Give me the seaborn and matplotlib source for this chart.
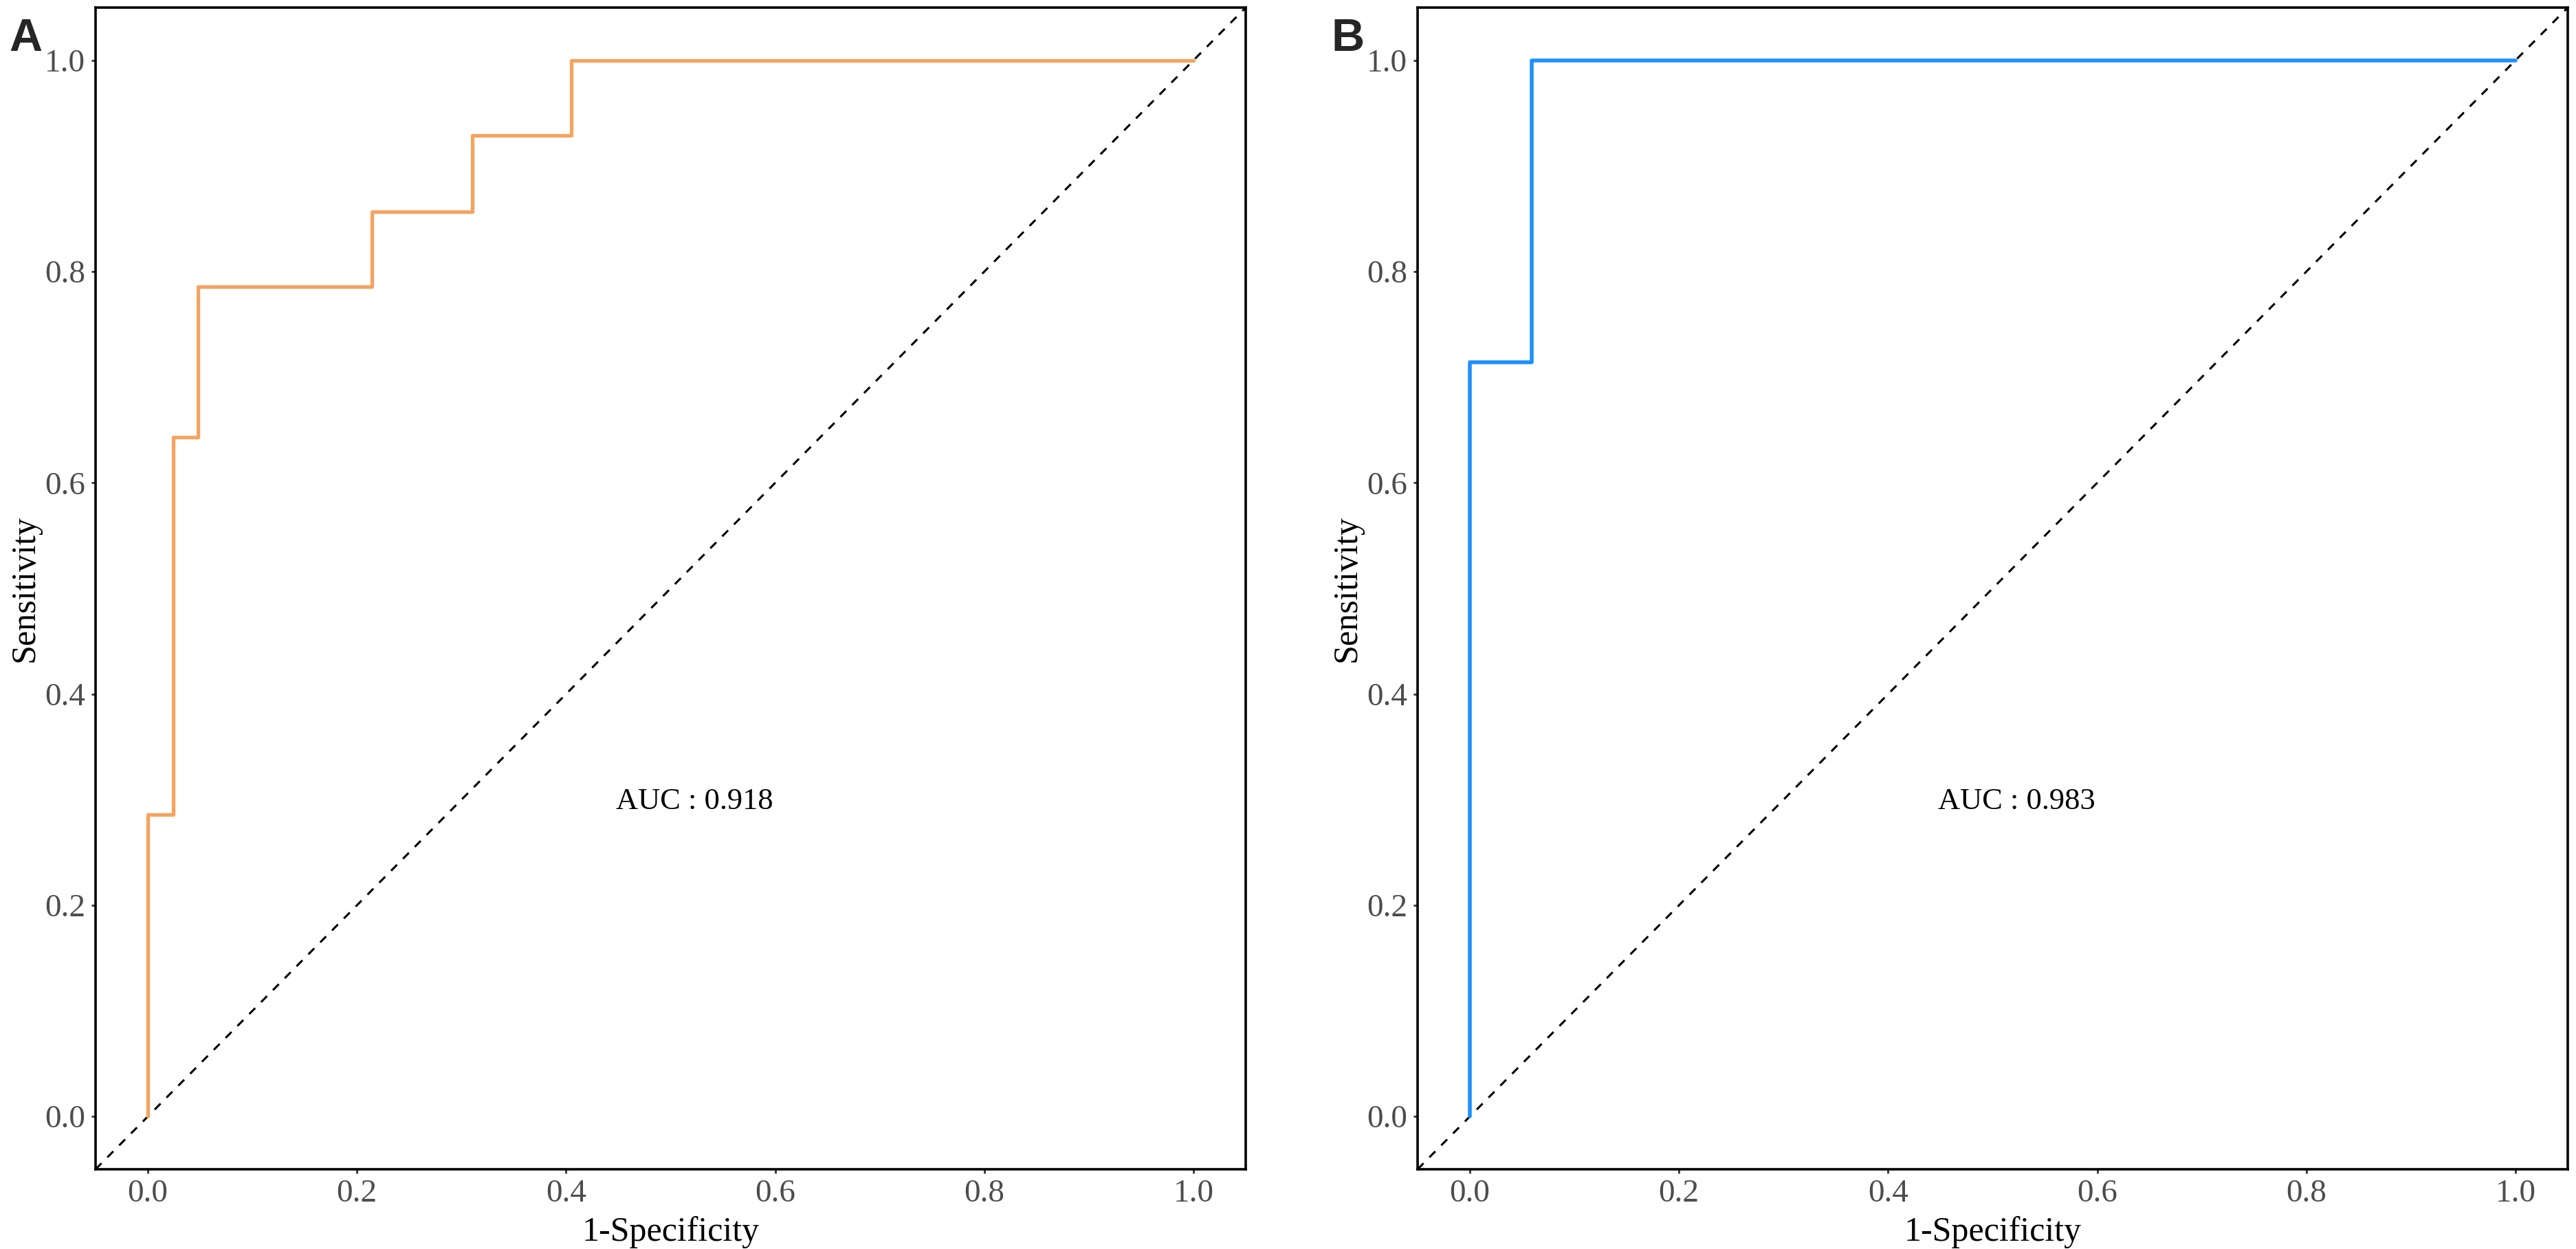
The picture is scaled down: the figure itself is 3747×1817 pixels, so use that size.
import numpy as np
import pandas as pd
import matplotlib
matplotlib.use("Agg")
import matplotlib.pyplot as plt
import seaborn as sns

# ---- data (ROC vertices) ----
fpr_a = [0.0, 0.0, 0.024, 0.024, 0.048, 0.048, 0.214, 0.214, 0.310, 0.310, 0.405, 0.405, 1.0]
tpr_a = [0.0, 0.286, 0.286, 0.643, 0.643, 0.786, 0.786, 0.857, 0.857, 0.929, 0.929, 1.0, 1.0]
fpr_b = [0.0, 0.0, 0.059, 0.059, 1.0]
tpr_b = [0.0, 0.714, 0.714, 1.0, 1.0]
auc_a = "0.918"
auc_b = "0.983"
panel_labels = ["A", "B"]
ticks = [0.0, 0.2, 0.4, 0.6, 0.8, 1.0]
tick_labels = ["0.0", "0.2", "0.4", "0.6", "0.8", "1.0"]
diag = [0.0, 1.0]
colors = ["#F4A460", "#1E90FF"]

sns.set_style("ticks")
plt.rcParams["font.family"] = ["Liberation Serif", "DejaVu Serif"]

W, H, DPI = 3748, 1817, 200
fig = plt.figure(figsize=(W / DPI, H / DPI), dpi=DPI)

ax_left = [139, 2062]
ax_w = 1812 - 139
ax_top, ax_bot = 11, 1701

panels = [
    (fpr_a, tpr_a, auc_a, colors[0], 1.9),
    (fpr_b, tpr_b, auc_b, colors[1], 2.0),
]
label_x = [13, 1937]

for i, (fx, ty, auc, col, lw) in enumerate(panels):
    ax = fig.add_axes([ax_left[i] / W, (H - ax_bot) / H, ax_w / W, (ax_bot - ax_top) / H])
    df = pd.DataFrame({"fpr": fx, "tpr": ty})
    ax.axline((diag[0], diag[0]), (diag[1], diag[1]), color="black",
              lw=1.1, linestyle=(0, (4, 4)), zorder=1)
    sns.lineplot(data=df, x="fpr", y="tpr", sort=False, estimator=None,
                 color=col, lw=lw, ax=ax, zorder=2)
    ax.set_xlim(-0.05, 1.05)
    ax.set_ylim(-0.05, 1.05)
    ax.set_xticks(ticks)
    ax.set_xticklabels(tick_labels)
    ax.set_yticks(ticks)
    ax.set_yticklabels(tick_labels)
    ax.tick_params(axis="both", labelsize=17, labelcolor="#4D4D4D", color="#333333",
                   length=2.3, width=1.0, pad=3)
    for s in ax.spines.values():
        s.set_linewidth(1.3)
        s.set_color("black")
    ax.set_xlabel("1-Specificity", fontsize=18, color="black", labelpad=4)
    ax.set_ylabel("Sensitivity", fontsize=18, color="black", labelpad=2)
    ax.text(0.523, 0.291, "AUC : " + auc, ha="center", va="baseline",
            fontsize=16, color="black")
    fig.text(label_x[i] / W, 1 - 74 / H, panel_labels[i], ha="left", va="baseline",
             fontsize=24, fontweight="bold", family=["Liberation Sans", "DejaVu Sans"])

fig.savefig("out.png", dpi=DPI, facecolor="white")
